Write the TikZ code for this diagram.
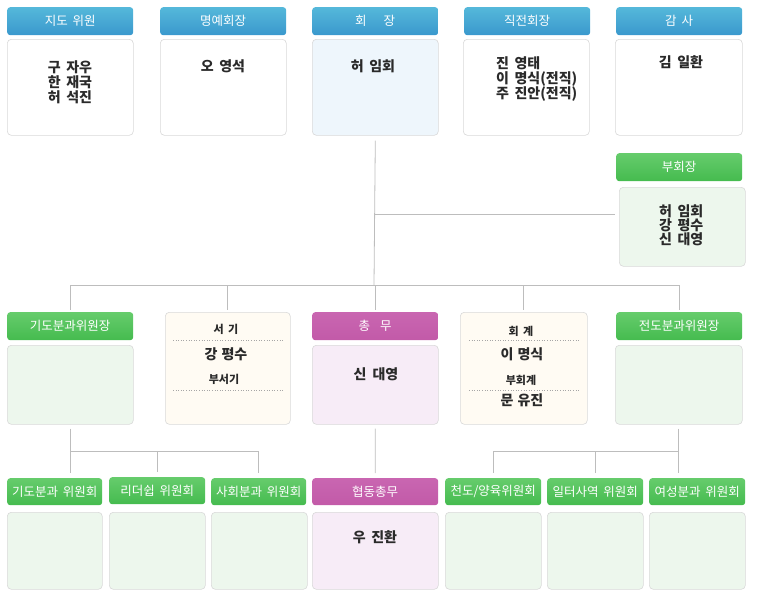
\documentclass[tikz,border=0pt]{standalone}
\usepackage{fontspec}
\setmainfont{Noto Sans CJK KR}[WordSpace=1.7]
\usepackage{xcolor}
\usepackage{tikz}
\usetikzlibrary{calc}
\definecolor{bluetop}{HTML}{55B8DA}
\definecolor{bluebot}{HTML}{3A98CD}
\definecolor{greentop}{HTML}{66CC6C}
\definecolor{greenbot}{HTML}{45BB4F}
\definecolor{magtop}{HTML}{C966B1}
\definecolor{magbot}{HTML}{C25AA8}
\definecolor{edge}{HTML}{D9D9D9}
\definecolor{ink}{HTML}{2A2A2A}
\definecolor{linegray}{HTML}{BDBDBD}
\definecolor{paleblue}{HTML}{EEF6FC}
\definecolor{palegreen}{HTML}{EDF7ED}
\definecolor{palepink}{HTML}{F7ECF7}
\definecolor{cream}{HTML}{FFFBF3}
\tikzset{
  head/.style={rounded corners=3pt, minimum height=28pt, anchor=north west, inner sep=0pt,
    text=white, font=\fontsize{12.5}{15}\selectfont},
  bluehead/.style={head, top color=bluetop, bottom color=bluebot},
  greenhead/.style={head, top color=greentop, bottom color=greenbot},
  maghead/.style={head, top color=magtop, bottom color=magbot},
  box/.style={draw=edge, line width=0.6pt, rounded corners=4pt, anchor=north west, inner sep=0pt},
  who/.style={text=ink, font=\bfseries\fontsize{14}{15}\selectfont, inner sep=0pt, align=left},
  small/.style={text=ink, font=\bfseries\fontsize{11}{13}\selectfont, inner sep=0pt},
  conn/.style={draw=linegray, line width=0.8pt},
  dotline/.style={draw=gray!70, dotted, line width=0.6pt},
}
\begin{document}
\begin{tikzpicture}[x=1pt,y=-1pt]
\useasboundingbox (0,0) rectangle (780,600);
% top row
\node[bluehead, minimum width=126pt] (jidoh) at (7,7) {지도 위원};
\node[box, fill=white, minimum width=126pt, minimum height=96pt] (jidob) at (7,39) {};
\node[who, anchor=north] (jidot) at (70,60) {구 자우\\한 재국\\허 석진};
\node[bluehead, minimum width=126pt] (myeongh) at (160,7) {명예회장};
\node[box, fill=white, minimum width=126pt, minimum height=96pt] (myeongb) at (160,39) {};
\node[who] (myeongt) at (223,66) {오 영석};
\node[bluehead, minimum width=126pt] (hoeh) at (312,7) {회\hspace{17pt}장};
\node[box, fill=paleblue, minimum width=126pt, minimum height=96pt] (hoeb) at (312,39) {};
\node[who] (hoet) at (373,66) {허 임회};
\node[bluehead, minimum width=126pt] (jikh) at (464,7) {직전회장};
\node[box, fill=white, minimum width=126pt, minimum height=96pt] (jikb) at (463,39) {};
\node[who, anchor=north west] (jikt) at (496,56) {진 영태\\이 명식(전직)\\주 진안(전직)};
\node[bluehead, minimum width=126pt] (gamh) at (616,7) {감\hspace{5pt}사};
\node[box, fill=white, minimum width=127pt, minimum height=96pt] (gamb) at (615,39) {};
\node[who] (gamt) at (681,62) {김 일환};

% vice presidents
\node[greenhead, minimum width=126pt] (buh) at (616,153) {부회장};
\node[box, fill=palegreen, minimum width=126pt, minimum height=79pt] (bub) at (619,187) {};
\node[who, anchor=north west, font=\bfseries\fontsize{14}{14}\selectfont] (but) at (659,204) {허 임회\\강 평수\\신 대영};

% middle row
\node[greenhead, minimum width=126pt] (gidoh) at (7,312) {기도분과위원장};
\node[box, fill=palegreen, minimum width=126pt, minimum height=79pt] (gidob) at (7,345) {};
\node[box, fill=cream, minimum width=125pt, minimum height=112pt] (seogi) at (165,312) {};
\node[small] (seogit) at (226,329) {서 기};
\draw[dotline] ([xshift=8pt,yshift=-28pt]seogi.north west) -- ([xshift=-8pt,yshift=-28pt]seogi.north east);
\node[who] (seogin) at (226,354) {강\hspace{4pt}평수};
\node[small] (buseogi) at (224,379) {부서기};
\draw[dotline] ([xshift=8pt,yshift=-78pt]seogi.north west) -- ([xshift=-8pt,yshift=-78pt]seogi.north east);
\node[maghead, minimum width=126pt] (chongh) at (312,312) {총\hspace{10pt}무};
\node[box, fill=palepink, minimum width=126pt, minimum height=79pt] (chongb) at (312,345) {};
\node[who] (chongt) at (376,374) {신\hspace{6pt}대영};
\node[box, fill=cream, minimum width=127pt, minimum height=112pt] (hoegye) at (460,312) {};
\node[small] (hoegyet) at (521,331) {회 계};
\draw[dotline] ([xshift=9pt,yshift=-28pt]hoegye.north west) -- ([xshift=-9pt,yshift=-28pt]hoegye.north east);
\node[who] (hoegyen) at (522,354) {이\hspace{4pt}명식};
\node[small] (buhoegye) at (521,380) {부회계};
\draw[dotline] ([xshift=9pt,yshift=-78pt]hoegye.north west) -- ([xshift=-9pt,yshift=-78pt]hoegye.north east);
\node[who] (buhoegyen) at (522,400) {문\hspace{4pt}유진};
\node[greenhead, minimum width=126pt] (jeondoh) at (616,312) {전도분과위원장};
\node[box, fill=palegreen, minimum width=127pt, minimum height=79pt] (jeondob) at (615,345) {};

% bottom row
\node[greenhead, minimum width=95pt, minimum height=27pt] (wgidoh) at (7,478) {기도분과 위원회};
\node[box, fill=palegreen, minimum width=95pt, minimum height=77pt] (wgidob) at (7,512) {};
\node[greenhead, minimum width=96pt, minimum height=27pt] (leadh) at (109,477) {리더쉽 위원회};
\node[box, fill=palegreen, minimum width=96pt, minimum height=77pt] (leadb) at (109,512) {};
\node[greenhead, minimum width=95pt, minimum height=27pt] (sahoeh) at (211,478) {사회분과 위원회};
\node[box, fill=palegreen, minimum width=96pt, minimum height=77pt] (sahoeb) at (211,512) {};
\node[maghead, minimum width=126pt, minimum height=27pt] (hyeoph) at (312,478) {협동총무};
\node[box, fill=palepink, minimum width=126pt, minimum height=77pt] (hyeopb) at (312,512) {};
\node[who] (hyeopt) at (375,537) {우 진환};
\node[greenhead, minimum width=96pt, minimum height=27pt] (yangh) at (445,478) {천도/양육위원회};
\node[box, fill=palegreen, minimum width=96pt, minimum height=77pt] (yangb) at (445,512) {};
\node[greenhead, minimum width=96pt, minimum height=27pt] (ilteoh) at (547,478) {일터사역 위원회};
\node[box, fill=palegreen, minimum width=96pt, minimum height=77pt] (ilteob) at (547,512) {};
\node[greenhead, minimum width=96pt, minimum height=27pt] (yeoh) at (649,478) {여성분과 위원회};
\node[box, fill=palegreen, minimum width=96pt, minimum height=77pt] (yeob) at (649,512) {};

% connectors
\coordinate (bus) at (374,285);
\coordinate (lbus) at (70,451);
\coordinate (rbus) at (679,451);
\draw[conn] ([yshift=-5pt]hoeb.south) -- (bus);
\draw[conn] (bus |- 0,214) -- ([xshift=-4pt]bub.west |- 0,214);
\draw[conn] (gidoh.north |- bus) -- (jeondoh.north |- bus);
\foreach \n in {gidoh,seogi,chongh,hoegye,jeondoh}
  \draw[conn] (\n.north |- bus) -- ([yshift=2pt]\n.north);
\draw[conn] ([yshift=-4pt]gidob.south) -- ([yshift=5pt]gidob.south |- wgidoh.north);
\draw[conn] (lbus) -- (lbus -| sahoeh.north);
\foreach \n in {leadh,sahoeh}
  \draw[conn] (lbus -| \n.north) -- ([yshift=5pt]\n.north);
\draw[conn] ([yshift=-4pt]chongb.south) -- ([yshift=5pt]hyeoph.north);
\draw[conn] ([yshift=-4pt]jeondob.south) -- ([yshift=5pt]jeondob.south |- yeoh.north);
\draw[conn] (rbus) -- (rbus -| yangh.north);
\foreach \n in {yangh,ilteoh}
  \draw[conn] (rbus -| \n.north) -- ([yshift=5pt]\n.north);
\end{tikzpicture}
\end{document}
